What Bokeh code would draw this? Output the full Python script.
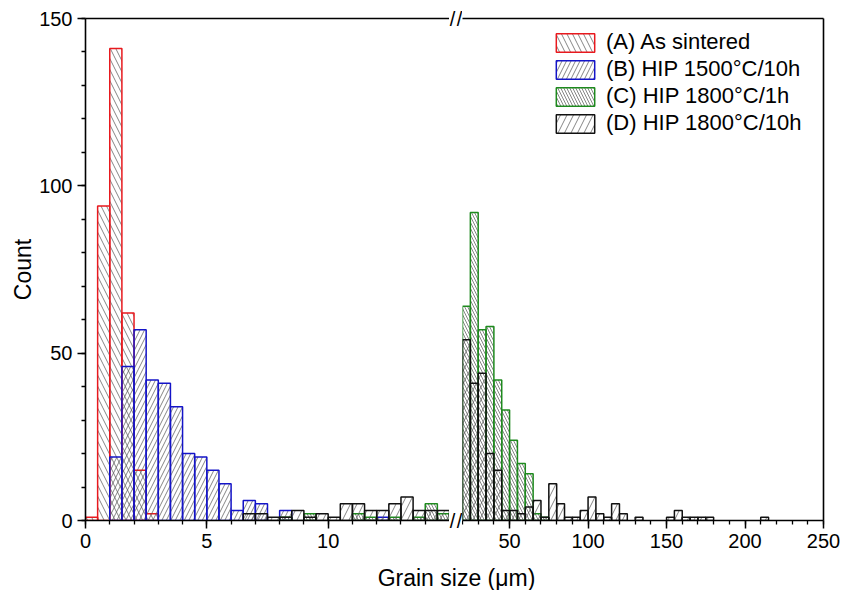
from bokeh.plotting import figure
from bokeh.layouts import column, row
from bokeh.models import (Range1d, FixedTicker, LinearAxis, Label, Legend,
                          LegendItem, ColumnDataSource)
from bokeh.embed import file_html
from bokeh.resources import INLINE

# ---------------- data ----------------
series_labels = ["(A) As sintered", "(B) HIP 1500°C/10h",
                 "(C) HIP 1800°C/1h", "(D) HIP 1800°C/10h"]

left_bin_start = 0.0
left_bin_width = 0.5          # bins 0 .. 15 µm
right_bin_start = 20.0
right_bin_width = 5.0         # bins 20 .. 250 µm

count_a_left = [1, 94, 141, 62, 15, 2, 0, 0, 0, 0, 0, 0, 0, 0, 0,
                0, 0, 0, 0, 0, 0, 0, 0, 0, 0, 0, 0, 0, 0, 0]
count_b_left = [0, 0, 19, 46, 57, 42, 41, 34, 20, 19, 15, 11, 3, 6, 5,
                0, 3, 0, 0, 0, 0, 0, 0, 0, 1, 0, 0, 0, 0, 0]
count_c_left = [0, 0, 0, 0, 0, 0, 0, 0, 0, 0, 0, 0, 0, 0, 0,
                0, 1, 0, 2, 0, 0, 0, 2, 1, 0, 1, 0, 1, 5, 2]
count_d_left = [0, 0, 0, 0, 0, 0, 0, 0, 0, 0, 0, 0, 0, 2, 2,
                1, 1, 3, 1, 2, 1, 5, 5, 3, 3, 5, 7, 3, 3, 3]

count_a_right = [0] * 46
count_b_right = [0] * 46
count_c_right = [64, 92, 57, 58, 42, 33, 24, 17, 14, 2, 1, 0, 0, 0, 0, 0,
                 0, 0, 0, 0, 0, 0, 0, 0, 0, 0, 0, 0, 0, 0, 0, 0, 0, 0, 0, 0,
                 0, 0, 0, 0, 0, 0, 0, 0, 0, 0]
count_d_right = [54, 41, 44, 20, 15, 3, 3, 2, 4, 6, 1, 11, 5, 1, 1, 3,
                 7, 2, 1, 5, 2, 0, 1, 0, 0, 0, 1, 3, 1, 1, 1, 1, 0, 0, 0, 0,
                 0, 0, 1, 0, 0, 0, 0, 0, 0, 0]

y_ticks = [0, 50, 100, 150]
y_minor = list(range(0, 151, 10))
x_left_ticks = [0, 5, 10]
x_left_minor = list(range(0, 15))
x_right_ticks = [50, 100, 150, 200, 250]
x_right_minor = list(range(20, 251, 10))

# ---------------- styles ----------------
FONT = "Liberation Sans"
colors = ["#e8191e", "#1414c8", "#1e8a1e", "#111111"]
hatches = ["\\", "/", "\\", "/"]
hatch_scales = [11, 9, 6, 13]

FRAME_TOP = 18
FRAME_H = 502
BOTTOM_BORDER = 38
MAIN_H = FRAME_TOP + FRAME_H + BOTTOM_BORDER


def series_source(cnt_left, cnt_right):
    lefts, rights, tops = [], [], []
    for start, width, counts in ((left_bin_start, left_bin_width, cnt_left),
                                 (right_bin_start, right_bin_width, cnt_right)):
        for i, c in enumerate(counts):
            if c > 0:
                lefts.append(start + i * width)
                rights.append(start + (i + 1) * width)
                tops.append(c)
    return ColumnDataSource(dict(left=lefts, right=rights, top=tops,
                                 bottom=[0] * len(tops)))


sources = [series_source(count_a_left, count_a_right),
           series_source(count_b_left, count_b_right),
           series_source(count_c_left, count_c_right),
           series_source(count_d_left, count_d_right)]


def add_bars(p, src, k):
    return p.quad(left="left", right="right", top="top", bottom="bottom",
                  source=src, fill_color=None, fill_alpha=0,
                  line_color=colors[k], line_width=1.5,
                  hatch_pattern=hatches[k], hatch_scale=hatch_scales[k],
                  hatch_color="#555555", hatch_weight=0.8, hatch_alpha=0.9)


def style_axis(ax, ticks, minor):
    ax.ticker = FixedTicker(ticks=ticks, minor_ticks=minor)
    ax.axis_line_width = 1.6
    ax.axis_line_color = "black"
    ax.major_tick_line_color = "black"
    ax.minor_tick_line_color = "black"
    ax.major_tick_line_width = 1.5
    ax.minor_tick_line_width = 1.3
    ax.major_tick_in = 0
    ax.major_tick_out = 8
    ax.minor_tick_in = 0
    ax.minor_tick_out = 4
    ax.major_label_text_font = FONT
    ax.major_label_text_font_size = "20px"
    ax.major_label_text_color = "black"
    ax.major_label_standoff = 5
    ax.axis_label_text_font = FONT
    ax.axis_label_text_font_size = "23px"
    ax.axis_label_text_font_style = "normal"
    ax.axis_label_text_color = "black"


def plain_axis():
    return LinearAxis(ticker=FixedTicker(ticks=[]), axis_line_width=1.6,
                      major_tick_line_color=None, minor_tick_line_color=None,
                      major_tick_out=0, minor_tick_out=0,
                      major_label_text_font_size="0px", major_label_standoff=0)


y_range = Range1d(0, 150)

# ---------------- left panel (0 - 15 µm) ----------------
left = figure(frame_width=364, frame_height=FRAME_H,
              x_range=Range1d(0, 15), y_range=y_range,
              output_backend="svg", toolbar_location=None,
              min_border_left=85, min_border_right=0,
              min_border_top=FRAME_TOP, min_border_bottom=BOTTOM_BORDER,
              outline_line_color=None)
left.grid.visible = False
style_axis(left.xaxis[0], x_left_ticks, x_left_minor)
style_axis(left.yaxis[0], y_ticks, y_minor)
left.yaxis[0].axis_label = "Count"
left.yaxis[0].axis_label_standoff = 0
left.add_layout(plain_axis(), "above")
for k in range(4):
    add_bars(left, sources[k], k)

# ---------------- axis-break strip (the "//" marks) ----------------
GAP_W = 13
break_marks = [3, 10]
brk = figure(width=GAP_W, height=MAIN_H, x_range=Range1d(0, GAP_W),
             y_range=Range1d(0, 150), title=None,
             x_axis_location=None, y_axis_location=None,
             output_backend="svg", toolbar_location=None,
             min_border_left=0, min_border_right=0,
             min_border_top=FRAME_TOP, min_border_bottom=BOTTOM_BORDER,
             outline_line_color=None)
brk.grid.visible = False
for side in ("below", "above"):
    ax = LinearAxis(ticker=FixedTicker(ticks=break_marks),
                    major_label_overrides={m: "/" for m in break_marks},
                    axis_line_color=None, major_tick_line_color=None,
                    minor_tick_line_color=None,
                    major_tick_out=0, major_tick_in=0,
                    minor_tick_out=0, minor_tick_in=0,
                    major_label_text_font=FONT,
                    major_label_text_font_size="20px",
                    major_label_text_color="black",
                    major_label_standoff=-11)
    brk.add_layout(ax, side)

# ---------------- right panel (20 - 250 µm) ----------------
right = figure(frame_width=361, frame_height=FRAME_H,
               x_range=Range1d(20, 250), y_range=y_range,
               y_axis_location=None,
               output_backend="svg", toolbar_location=None,
               min_border_left=0, min_border_right=19,
               min_border_top=FRAME_TOP, min_border_bottom=BOTTOM_BORDER,
               outline_line_color=None)
right.grid.visible = False
style_axis(right.xaxis[0], x_right_ticks, x_right_minor)
right.add_layout(plain_axis(), "above")
right.add_layout(plain_axis(), "right")

right_renderers = [add_bars(right, sources[k], k) for k in range(4)]

legend = Legend(items=[LegendItem(label=series_labels[i], renderers=[r])
                       for i, r in enumerate(right_renderers)],
                location=(89, 384), orientation="vertical",
                glyph_width=48, glyph_height=23, spacing=1, padding=2,
                margin=0, label_standoff=7,
                label_text_font=FONT, label_text_font_size="22px",
                label_text_color="black",
                border_line_color=None, background_fill_alpha=0)
right.add_layout(legend)

# ---------------- shared x-axis title ----------------
total_w = 85 + 364 + GAP_W + 361 + 19
XLAB_H = 32
xlab = figure(width=total_w, height=XLAB_H, x_range=Range1d(0, total_w),
              y_range=Range1d(0, XLAB_H), title=None,
              x_axis_location=None, y_axis_location=None,
              output_backend="svg", toolbar_location=None,
              outline_line_color=None, min_border=0)
xlab.grid.visible = False
xlab.add_layout(Label(x=456, y=13, text="Grain size (μm)", text_align="center",
                      text_baseline="alphabetic", text_font=FONT,
                      text_font_size="23px", text_color="black"))

layout = column(row(left, brk, right, spacing=0), xlab, spacing=0)

open("out.html", "w").write(file_html(layout, INLINE))
